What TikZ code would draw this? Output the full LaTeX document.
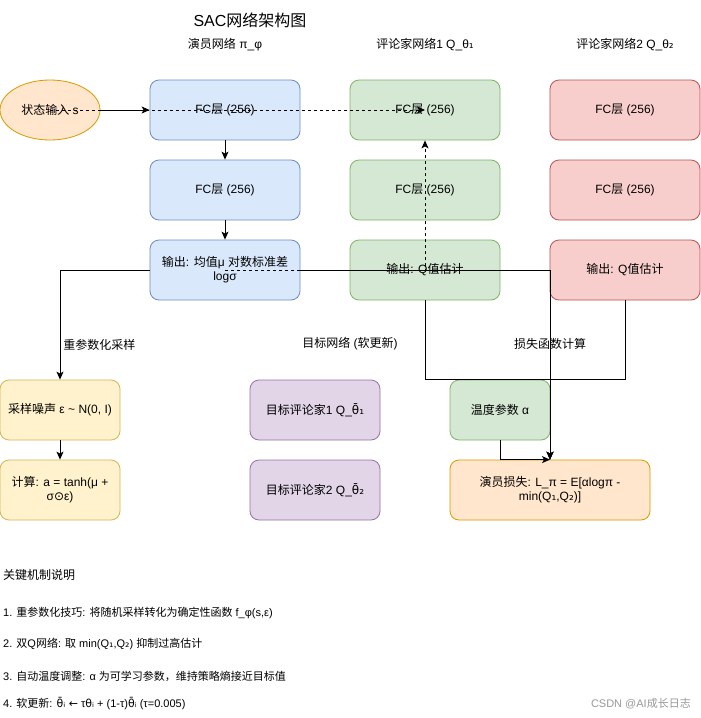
\documentclass[tikz,border=0pt]{standalone}
\usepackage{fontspec}
\setmainfont{Liberation Sans}
\newfontfamily\cjk{Noto Sans CJK SC}
\newfontfamily\dvs{DejaVu Sans}
\usepackage{xcolor}
\usepackage{tikz}
\usetikzlibrary{arrows.meta,shapes.geometric}

% switch to the CJK font for Chinese characters
\XeTeXinterchartokenstate=1
\newXeTeXintercharclass\cjkcls
\newcount\cjkc
\cjkc="4E00
\loop
    \XeTeXcharclass\cjkc=\cjkcls
    \advance\cjkc by 1
\ifnum\cjkc<"A000
\repeat
\XeTeXcharclass"FF0C=\cjkcls
\XeTeXinterchartoks 0 \cjkcls = {\cjk}
\XeTeXinterchartoks 4095 \cjkcls = {\cjk}
\XeTeXinterchartoks \cjkcls 0 = {\rmfamily}
\XeTeXinterchartoks \cjkcls 4095 = {\rmfamily}

\definecolor{actorfill}{HTML}{DAE8FC}
\definecolor{actorline}{HTML}{6C8EBF}
\definecolor{criticfill}{HTML}{D5E8D4}
\definecolor{criticline}{HTML}{82B366}
\definecolor{twinfill}{HTML}{F8CECC}
\definecolor{twinline}{HTML}{B85450}
\definecolor{orangefill}{HTML}{FFE6CC}
\definecolor{orangeline}{HTML}{D79B00}
\definecolor{noisefill}{HTML}{FFF2CC}
\definecolor{noiseline}{HTML}{D6B656}
\definecolor{targetfill}{HTML}{E1D5E7}
\definecolor{targetline}{HTML}{9673A6}

\tikzset{
    txt/.style={inner sep=0pt, font=\fontsize{12}{14}\selectfont},
    layer/.style={txt, rounded corners=9pt, line width=0.8pt, minimum width=150pt,
        minimum height=60pt, align=center},
    actor/.style={layer, fill=actorfill, draw=actorline},
    critic/.style={layer, fill=criticfill, draw=criticline},
    twin/.style={layer, fill=twinfill, draw=twinline},
    noise/.style={layer, fill=noisefill, draw=noiseline, minimum width=120pt},
    target/.style={layer, fill=targetfill, draw=targetline, minimum width=130pt},
    flow/.style={line width=0.9pt, -{Stealth[length=8pt,width=7pt,inset=2pt]}},
    dashflow/.style={flow, dash pattern=on 3pt off 3pt},
    note/.style={txt, anchor=west, font=\fontsize{11}{13}\selectfont},
}

\begin{document}
\begin{tikzpicture}[x=1pt, y=-1pt]
    \fill[white] (0, 0) rectangle (701, 718);
    \useasboundingbox (0, 0) rectangle (701, 718);

    \node[txt, font=\fontsize{16}{18}\selectfont] (title) at (250, 20) {SAC网络架构图};
    \node[txt] (actorhead) at (225, 45) {演员网络 π\_φ};
    \node[txt] (critichead) at (425, 45) {评论家网络1 Q\_θ{\dvs ₁}};
    \node[txt] (twinhead) at (625, 45) {评论家网络2 Q\_θ{\dvs ₂}};

    % networks
    \node[txt, ellipse, fill=orangefill, draw=orangeline, line width=0.8pt,
        minimum width=100pt, minimum height=60pt] (state) at (50, 110) {状态输入 s};
    \node[actor] (actor1) at (225, 110) {FC层 (256)};
    \node[actor] (actor2) at (225, 190) {FC层 (256)};
    \node[actor] (actorout) at (225, 270) {输出: 均值μ 对数标准差\\logσ};
    \node[critic] (critic1) at (425, 110) {FC层 (256)};
    \node[critic] (critic2) at (425, 190) {FC层 (256)};
    \node[critic] (criticout) at (425, 270) {输出: Q值估计};
    \node[twin] (twin1) at (625, 110) {FC层 (256)};
    \node[twin] (twin2) at (625, 190) {FC层 (256)};
    \node[twin] (twinout) at (625, 270) {输出: Q值估计};

    \node[noise] (sample) at (60, 410) {采样噪声 ε \textasciitilde{} N(0, I)};
    \node[noise] (action) at (60, 490) {计算: a = tanh(μ +\\σ{\dvs ⊙}ε)};
    \node[target] (target1) at (315, 410) {目标评论家1 Q\_{\dvs θ̄₁}};
    \node[target] (target2) at (315, 490) {目标评论家2 Q\_{\dvs θ̄₂}};
    \node[layer, fill=criticfill, draw=criticline, minimum width=100pt] (alpha) at (500, 410) {温度参数 α};
    \node[layer, fill=orangefill, draw=orangeline, minimum width=200pt] (loss) at (550, 490)
        {演员损失: L\_π = E[αlogπ -\\min(Q{\dvs ₁},Q{\dvs ₂})]};

    \node[txt] (softlabel) at (350, 344) {目标网络 (软更新)};

    % connectors
    \draw[flow] (state) -- (actor1);
    \draw[dashflow] (state.center) -- (critic1.center);
    \draw[flow] (actor1) -- (actor2);
    \draw[flow] (actor2) -- (actorout);
    \draw[flow] (actorout.west) -| (sample.north)
        node[txt, pos=0.84, anchor=west, xshift=3pt] (reparam) {重参数化采样};
    \draw[flow] (actorout.east) -| (loss.north)
        node[txt, pos=0.695] (losslabel) {损失函数计算};
    \draw[dashflow] (actorout.center) -| (critic1.south);
    \draw[flow] (criticout.south) -- (criticout.south |- alpha.north) -| (loss.north);
    \draw[flow] (twinout.south) -- (twinout.south |- alpha.north) -| (loss.north);
    \draw[flow] (alpha.south) |- (loss.north);
    \draw[flow] (sample) -- (action);

    % key mechanisms
    \node[note, font=\fontsize{12}{14}\selectfont] (keyhead) at (3, 575) {关键机制说明};
    \node[note] (key1) at (3, 613) {1. 重参数化技巧: 将随机采样转化为确定性函数 f\_φ(s,ε)};
    \node[note] (key2) at (3, 644) {2. 双Q网络: 取 min(Q{\dvs ₁},Q{\dvs ₂}) 抑制过高估计};
    \node[note] (key3) at (3, 676) {3. 自动温度调整: α 为可学习参数，维持策略熵接近目标值};
    \node[note] (key4) at (3, 704) {4. 软更新: {\dvs θ̄ᵢ ←} τ{\dvs θᵢ} + (1-τ){\dvs θ̄ᵢ} (τ=0.005)};
    \node[note, anchor=east, text=gray!80] (mark) at (691, 704) {CSDN @AI成长日志};
\end{tikzpicture}
\end{document}
